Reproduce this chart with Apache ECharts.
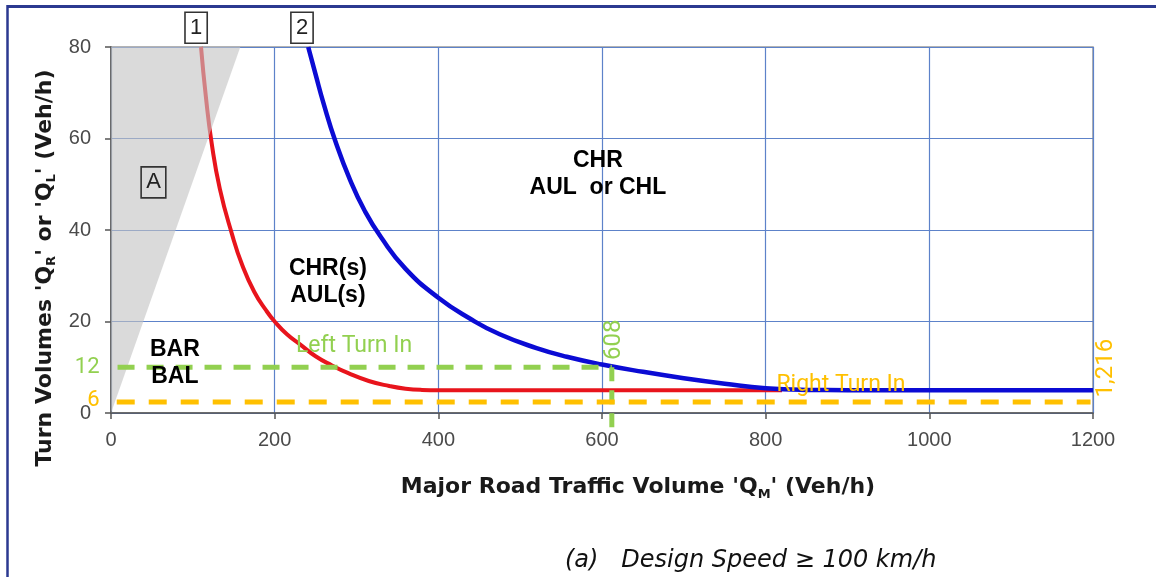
<!DOCTYPE html>
<html><head><meta charset="utf-8">
<script src="https://cdn.jsdelivr.net/npm/echarts@6/dist/echarts.min.js"></script>
<style>html,body{margin:0;padding:0;background:#fff}#c{width:1156px;height:577px}</style>
</head><body><div id="c"></div>
<script>
// ---- data ----
const xTicks = [0, 200, 400, 600, 800, 1000, 1200];
const yTicks = [0, 20, 40, 60, 80];

// Curve 1 (red)
const curve1 = [[110,80],[116,69],[123,59],[133,49],[148,39],[160,32.5],[175,26.5],[190,22.3],[200,20],[215,17.2],[231,15],[250,12.4],[270,10.4],[290,8.7],[315,7],[340,5.9],[360,5.3],[380,5.05],[400,5],[820,5]];
// Curve 2 (blue)
const curve2 = [[241,80],[250,74],[260,67.5],[274,59.5],[292,51],[310,44.2],[330,38.4],[360,31.5],[400,25.2],[439,20.6],[475,17.2],[520,14.2],[557,12.3],[600,10.6],[650,9],[700,7.6],[750,6.4],[800,5.4],[850,5.05],[900,5],[1200,5]];
// Zone A (grey), boundary line; filled up to the top of the axis
const zoneA = [[0,0],[158,80]];

// Annotation lines
const leftTurnH = [[8,10],[612,10]];
const leftTurnV = [[612,10],[612,-5]];
const rightTurnH = [[7,2.4],[1197,2.4]];
const rightTurnV = [[1211,1.9],[1211,-3.6]];

// Text labels
const regionLabels = [
  {name:'CHR(s)\nAUL(s)', value:[265,28.7]},
  {name:'BAR\nBAL', value:[78,10.8]},
  {name:'CHR\nAUL  or CHL', value:[595,52.3]}
];
const boxLabels = [
  {name:'1', value:[104,84.2]},
  {name:'2', value:[233.4,84.2]},
  {name:'A', value:[51.9,50.4]}
];
const greenText = [
  {name:'Left Turn In', value:[297,14.6], size:23},
  {name:'608', value:[615,16], rot:90, size:24},
  {name:'12', value:[0,10], left:true, size:22}
];
const orangeText = [
  {name:'Right Turn In', value:[892,6.1], size:23},
  {name:'1,216', value:[1216,9.8], rot:90, size:24},
  {name:'6', value:[0,2.8], left:true, size:22}
];

const GREEN = '#92d050', ORANGE = '#ffc000';
const FONT = 'Liberation Sans, Arial, sans-serif';
const WIDE = 'DejaVu Sans, sans-serif';
const CLEAR = {color: 'rgba(0,0,0,0)', opacity: 1};

function textItems(arr, color) {
  return arr.map(d => ({
    name: d.name, value: d.value,
    label: {
      show: true, formatter: '{b}', color: color, fontSize: d.size, fontFamily: 'Roboto, sans-serif',
      rotate: d.rot || 0, opacity: 1,
      position: d.left ? 'left' : 'inside',
      distance: d.left ? 11 : 0
    }
  }));
}

const chart = echarts.init(document.getElementById('c'), null, {renderer: 'canvas'});
chart.setOption({
  animation: false,
  backgroundColor: '#fff',
  title: {
    text: '(a)   Design Speed \u2265 100 km/h',
    left: 565, top: 549, padding: 0,
    textStyle: {fontStyle: 'italic', fontWeight: 'normal', fontSize: 24, color: '#111', fontFamily: WIDE}
  },
  graphic: [
    {type: 'line', shape: {x1: 7, y1: 6.5, x2: 1156, y2: 6.5}, style: {stroke: '#2b3990', lineWidth: 3}},
    {type: 'line', shape: {x1: 7.5, y1: 5, x2: 7.5, y2: 577}, style: {stroke: '#2b3990', lineWidth: 2.5}}
  ],
  grid: {left: 111, right: 63, top: 47, bottom: 164, show: true, borderColor: '#9a9a9a', borderWidth: 1.5, outerBoundsMode: 'none'},
  xAxis: {
    type: 'value', min: xTicks[0], max: xTicks[xTicks.length-1], interval: xTicks[1]-xTicks[0],
    axisLine: {show: true, lineStyle: {color: '#555', width: 1.5}},
    axisTick: {show: true, length: 6, lineStyle: {color: '#555', width: 1.5}},
    axisLabel: {fontSize: 20, color: '#4a4a4a', margin: 17, fontFamily: FONT, showMinLabel: true, showMaxLabel: true,
      formatter: v => String(v)},
    splitLine: {show: true, lineStyle: {color: '#5d82c9', width: 1.2}},
    name: "Major Road Traffic Volume 'Q{s|M}' (Veh/h)",
    nameLocation: 'middle', nameGap: 61,
    nameTextStyle: {fontSize: 22, fontWeight: 'bold', color: '#1a1a1a', fontFamily: WIDE, padding: [0,0,0,72], lineHeight: 27,
      rich: {s: {fontSize: 13, fontWeight: 'bold', color: '#1a1a1a', fontFamily: WIDE, verticalAlign: 'bottom', lineHeight: 20, padding: [7,0,0,0]}}}
  },
  yAxis: {
    type: 'value', min: yTicks[0], max: yTicks[yTicks.length-1], interval: yTicks[1]-yTicks[0],
    axisLine: {show: true, lineStyle: {color: '#555', width: 1.5}},
    axisTick: {show: true, length: 6, lineStyle: {color: '#555', width: 1.5}},
    axisLabel: {fontSize: 20, color: '#4a4a4a', margin: 20, fontFamily: FONT, showMinLabel: true, showMaxLabel: true},
    splitLine: {show: true, lineStyle: {color: '#5d82c9', width: 1.2}},
    name: "Turn Volumes 'Q{s|R}' or 'Q{s|L}' (Veh/h)",
    nameLocation: 'middle', nameGap: 52,
    nameTextStyle: {fontSize: 22, fontWeight: 'bold', color: '#1a1a1a', fontFamily: WIDE, padding: [0,76,0,0], lineHeight: 26,
      rich: {s: {fontSize: 13, fontWeight: 'bold', color: '#1a1a1a', fontFamily: WIDE, verticalAlign: 'bottom', lineHeight: 19, padding: [7,0,0,0]}}}
  },
  series: [
    {type: 'line', data: curve1, smooth: 0.5, symbol: 'none', z: 2,
      lineStyle: {color: '#e8141c', width: 4}},
    {type: 'line', data: zoneA, symbol: 'none', z: 3,
      lineStyle: {width: 0, opacity: 0},
      areaStyle: {origin: 'end', color: '#c4c4c4', opacity: 0.62}},
    {type: 'line', data: curve2, smooth: 0.5, symbol: 'none', z: 4,
      lineStyle: {color: '#0b0bd4', width: 4.5}},
    {type: 'line', data: leftTurnH, symbol: 'none', z: 5, clip: false,
      lineStyle: {color: GREEN, width: 5, type: [17, 12]}},
    {type: 'line', data: leftTurnV, symbol: 'none', z: 5, clip: false,
      lineStyle: {color: GREEN, width: 5, type: [14, 9]}},
    {type: 'line', data: rightTurnH, symbol: 'none', z: 5, clip: false,
      lineStyle: {color: ORANGE, width: 5, type: [18, 14]}},
    {type: 'line', data: rightTurnV, symbol: 'none', z: 5, clip: false,
      lineStyle: {color: ORANGE, width: 6}},
    {type: 'scatter', data: regionLabels, symbolSize: 1, clip: false, z: 10, itemStyle: CLEAR,
      label: {show: true, position: 'inside', formatter: '{b}', fontSize: 23, fontWeight: 'bold', color: '#000', opacity: 1, lineHeight: 27, align: 'center', fontFamily: FONT}},
    {type: 'scatter', data: boxLabels, symbolSize: 1, clip: false, z: 10, itemStyle: CLEAR,
      label: {show: true, position: 'inside', formatter: '{b}', fontSize: 22, color: '#222', opacity: 1, fontFamily: FONT,
        borderColor: '#333', borderWidth: 1.6, padding: [6, 5, 3, 5]}},
    {type: 'scatter', data: textItems(greenText, GREEN), symbolSize: 1, clip: false, z: 10, itemStyle: CLEAR},
    {type: 'scatter', data: textItems(orangeText, ORANGE), symbolSize: 1, clip: false, z: 10, itemStyle: CLEAR}
  ]
});
</script></body></html>
